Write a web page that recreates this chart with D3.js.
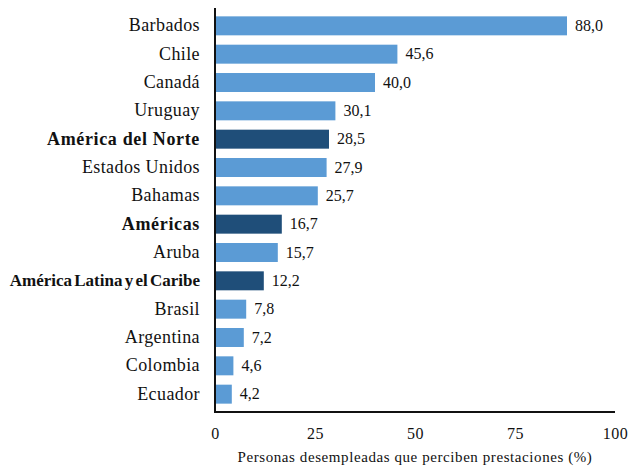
<!DOCTYPE html>
<html>
<head>
<meta charset="utf-8">
<script src="https://cdn.jsdelivr.net/npm/d3@7/dist/d3.min.js"></script>
</head>
<body style="margin:0;background:#fff">
<svg id="chart" width="629" height="468"></svg>
<script>
const categories = ["Barbados","Chile","Canadá","Uruguay","América del Norte","Estados Unidos","Bahamas","Américas","Aruba","América Latina y el Caribe","Brasil","Argentina","Colombia","Ecuador"];
const values = [88.0,45.6,40.0,30.1,28.5,27.9,25.7,16.7,15.7,12.2,7.8,7.2,4.6,4.2];
const aggregates = ["América del Norte","Américas","América Latina y el Caribe"];
const xTicks = [0,25,50,75,100];
const xTitle = "Personas desempleadas que perciben prestaciones (%)";

const FONT = "Liberation Serif";
const svg = d3.select("#chart");
const x0 = 215, x1 = 615, yTop = 8, yBot = 412;
const x = d3.scaleLinear().domain([0,100]).range([x0,x1]);
const y = d3.scaleBand().domain(categories).range([7,413]).paddingInner(0.33).paddingOuter(0.33);
const fmt = v => v.toFixed(1).replace(".", ",");
const isAgg = d => aggregates.includes(d);
const isLong = d => d.length > 20;

svg.selectAll("rect.bar").data(categories).join("rect")
  .attr("class","bar")
  .attr("x", x(0))
  .attr("y", d => y(d))
  .attr("width", (d,i) => x(values[i]) - x(0))
  .attr("height", y.bandwidth())
  .attr("fill", d => isAgg(d) ? "#1F4E79" : "#5B9BD5");

svg.selectAll("text.val").data(categories).join("text")
  .attr("class","val")
  .attr("x", (d,i) => x(values[i]) + 8)
  .attr("y", d => y(d) + y.bandwidth()/2)
  .attr("dy","0.33em")
  .attr("font-family", FONT)
  .attr("font-size", 16)
  .attr("fill","#111")
  .text((d,i) => fmt(values[i]));

svg.selectAll("text.cat").data(categories).join("text")
  .attr("class","cat")
  .attr("x", 200)
  .attr("y", d => y(d) + y.bandwidth()/2)
  .attr("dy","0.3em")
  .attr("text-anchor","end")
  .attr("font-family", FONT)
  .attr("font-size", d => isAgg(d) && isLong(d) ? 17 : 18)
  .attr("font-weight", d => isAgg(d) ? "bold" : "normal")
  .attr("letter-spacing", d => isAgg(d) ? (isLong(d) ? 0 : 0.65) : 0.4)
  .attr("word-spacing", d => isAgg(d) && isLong(d) ? -2 : 0)
  .attr("fill","#111")
  .text(d => d);

const xAxis = d3.axisBottom(x).tickValues(xTicks).tickSize(0).tickPadding(16).tickFormat(d => d);
const gx = svg.append("g").attr("transform", `translate(0,${yBot})`).call(xAxis);
gx.attr("font-family", FONT).attr("font-size", 16);
gx.select(".domain").attr("stroke","#111").attr("stroke-width",2).attr("d", `M${x0-1},0H${x1}`);
gx.selectAll("text").attr("fill","#111").attr("letter-spacing", 0.5);

svg.append("line").attr("x1",x0).attr("x2",x0).attr("y1",yTop).attr("y2",yBot)
  .attr("stroke","#111").attr("stroke-width",2);

svg.append("text").attr("x", 415).attr("y", 462)
  .attr("text-anchor","middle")
  .attr("font-family", FONT).attr("font-size", 15).attr("letter-spacing", 0.58).attr("fill","#111")
  .text(xTitle);
</script>
</body>
</html>
